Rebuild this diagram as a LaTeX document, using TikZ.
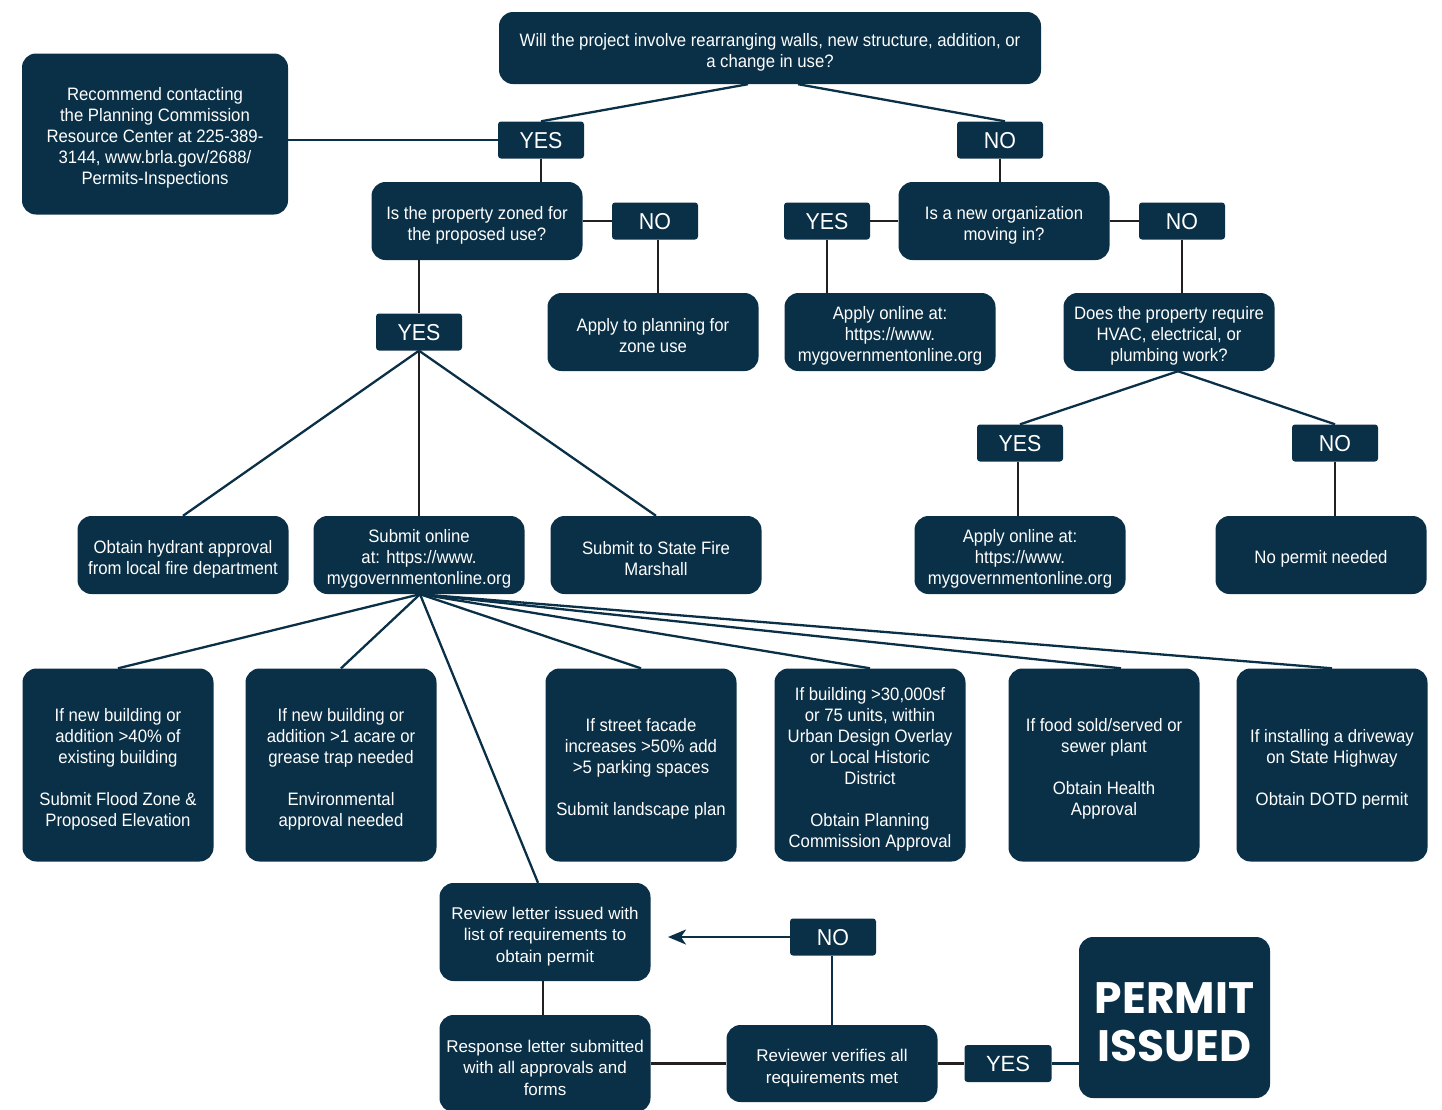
\documentclass[tikz,border=0pt]{standalone}
\usepackage{fontspec}
\setmainfont{Liberation Sans}[FakeStretch=0.93]
\newfontfamily\widefont{Liberation Sans}[FakeStretch=1.0]
\newfontfamily\permitfont{Poppins}
\usetikzlibrary{arrows.meta}
\definecolor{navy}{HTML}{0A3047}
\definecolor{stem}{HTML}{231F20}
\newcommand\tstrut{\rule{0pt}{21pt}}
\tikzset{
  box/.style={fill=navy, rounded corners=14pt, text=white, align=center, inner sep=0pt,
    font=\fontsize{18}{21}\selectfont},
  yn/.style={fill=navy, rounded corners=3pt, text=white, inner sep=0pt,
    minimum width=86pt, minimum height=37pt, text height=16.5pt, text depth=0pt,
    font=\fontsize{23}{26}\selectfont},
  nline/.style={draw=navy, line width=2.3pt},
  dline/.style={draw=stem, line width=2.3pt},
  wide/.style={font=\widefont\fontsize{17}{21.5}\selectfont},
}
\begin{document}
\begin{tikzpicture}[x=1pt,y=-1pt]
\useasboundingbox (0,0) rectangle (1442,1109);
% boxes
\node[box, minimum width=542pt, minimum height=72pt] (top) at (770,48)
  {\tstrut Will the project involve rearranging walls, new structure, addition, or\\a change in use?};
\node[box, minimum width=266pt, minimum height=161pt] (rec) at (155,134)
  {\tstrut Recommend contacting\\the Planning Commission\\Resource Center at 225-389-\\3144, www.brla.gov/2688/\\Permits-Inspections};
\node[yn] (yes1) at (541,140) {YES};
\node[yn] (no1) at (1000,140) {NO};
\node[box, minimum width=211pt, minimum height=78pt] (zoned) at (477,221)
  {\tstrut Is the property zoned for\\the proposed use?};
\node[yn] (no2) at (655,221) {NO};
\node[yn] (yes2) at (827,221) {YES};
\node[box, minimum width=211pt, minimum height=78pt] (org) at (1004,221)
  {\tstrut Is a new organization\\moving in?};
\node[yn] (no3) at (1182,221) {NO};
\node[yn] (yes3) at (419,332) {YES};
\node[box, minimum width=211pt, minimum height=78pt] (plan) at (653,332)
  {\tstrut Apply to planning for\\zone use};
\node[box, minimum width=211pt, minimum height=78pt] (app1) at (890,332)
  {\tstrut Apply online at:\\https://www.\\mygovernmentonline.org};
\node[box, minimum width=211pt, minimum height=78pt] (hvac) at (1169,332)
  {\tstrut Does the property require\\HVAC, electrical, or\\plumbing work?};
\node[yn] (yes4) at (1020,443) {YES};
\node[yn] (no4) at (1335,443) {NO};
\node[box, minimum width=211pt, minimum height=78pt] (hyd) at (183,555)
  {\tstrut Obtain hydrant approval\\from local fire department};
\node[box, minimum width=211pt, minimum height=78pt] (sub) at (419,555)
  {\tstrut Submit online\\at: https://www.\\mygovernmentonline.org};
\node[box, minimum width=211pt, minimum height=78pt] (fire) at (656,555)
  {\tstrut Submit to State Fire\\Marshall};
\node[box, minimum width=211pt, minimum height=78pt] (app2) at (1020,555)
  {\tstrut Apply online at:\\https://www.\\mygovernmentonline.org};
\node[box, minimum width=211pt, minimum height=78pt] (nop) at (1321,555)
  {\tstrut No permit needed};
% row of requirement boxes
\node[box, minimum width=191pt, minimum height=193pt] (ra) at (118,765)
  {\tstrut If new building or\\addition >40\% of\\existing building\\[21pt]Submit Flood Zone \&\\Proposed Elevation};
\node[box, minimum width=191pt, minimum height=193pt] (rb) at (341,765)
  {\tstrut If new building or\\addition >1 acare or\\grease trap needed\\[21pt]Environmental\\approval needed};
\node[box, minimum width=191pt, minimum height=193pt] (rc) at (641,765)
  {\tstrut If street facade\\increases >50\% add\\>5 parking spaces\\[21pt]Submit landscape plan};
\node[box, minimum width=191pt, minimum height=193pt] (rd) at (870,765)
  {\tstrut If building >30,000sf\\or 75 units, within\\Urban Design Overlay\\or Local Historic\\District\\[21pt]Obtain Planning\\Commission Approval};
\node[box, minimum width=191pt, minimum height=193pt] (re) at (1104,765)
  {\tstrut If food sold/served or\\sewer plant\\[21pt]Obtain Health\\Approval};
\node[box, minimum width=191pt, minimum height=193pt] (rf) at (1332,765)
  {\tstrut If installing a driveway\\on State Highway\\[21pt]Obtain DOTD permit};
% bottom
\node[box, wide, minimum width=211pt, minimum height=98pt] (rev) at (545,932)
  {\tstrut Review letter issued with\\list of requirements to\\obtain permit};
\node[yn] (no5) at (833,937) {NO};
\node[box, wide, minimum width=211pt, minimum height=97pt] (resp) at (545,1063.5)
  {\tstrut Response letter submitted\\with all approvals and\\forms};
\node[box, wide, minimum width=211pt, minimum height=77pt] (ver) at (832,1063.5)
  {\tstrut Reviewer verifies all\\requirements met};
\node[yn, minimum width=87pt, text height=16pt, font=\widefont\fontsize{22}{26}\selectfont] (yes5) at (1008,1063.5) {YES};
\node[box, minimum width=191pt, minimum height=161pt, font=\permitfont\bfseries\fontsize{44}{48}\selectfont] (perm) at (1174.5,1017.5)
  {\rule{0pt}{41pt}PERMIT\\ISSUED};
\coordinate (arrowend) at (668,937);
% connectors
\path[nline] (rec.east |- yes1.west) -- (yes1.west);
\path[nline] ([xshift=-22pt]top.south) -- (yes1.north);
\path[nline] ([xshift=28pt]top.south) -- ([xshift=5pt]no1.north);
\path[dline] (yes1.south) -- (yes1.south |- zoned.north);
\path[dline] (zoned.east) -- (no2.west);
\path[dline] ([xshift=3pt]no2.south) -- ([xshift=3pt]no2.south |- plan.north);
\path[dline] (no1.south) -- (no1.south |- org.north);
\path[dline] (yes2.east) -- (org.west);
\path[dline] (yes2.south) -- (yes2.south |- app1.north);
\path[dline] (org.east) -- (no3.west);
\path[dline] (no3.south) -- (no3.south |- hvac.north);
\path[dline] (zoned.south -| yes3.north) -- (yes3.north);
\path[nline] ([xshift=9pt]hvac.south) -- (yes4.north);
\path[nline] ([xshift=9pt]hvac.south) -- (no4.north);
\path[dline] ([xshift=-2pt]yes4.south) -- ([xshift=-2pt]yes4.south |- app2.north);
\path[dline] (no4.south) -- (no4.south |- nop.north);
\path[nline] (yes3.south) -- (hyd.north);
\path[dline] (yes3.south) -- (sub.north);
\path[nline] (yes3.south) -- (fire.north);
\foreach \t in {ra,rb,rc,rd,rf} {
  \path[nline] ([xshift=1pt]sub.south) -- (\t.north);
}
\path[nline] ([xshift=1pt]sub.south) -- ([xshift=17pt]re.north);
\path[nline] ([xshift=1pt]sub.south) -- ([xshift=-7pt]rev.north);
\path[dline] ([xshift=-2pt]rev.south) -- ([xshift=-2pt]rev.south |- resp.north);
\path[dline] (resp.east) -- (ver.west);
\path[nline] (ver.north) -- (ver.north |- no5.south);
\path[nline, -{Stealth[length=18pt,width=15pt,inset=5pt]}] (no5.west) -- (arrowend);
\path[dline] (ver.east) -- (yes5.west);
\path[nline] (yes5.east) -- (perm.west |- yes5.east);
\end{tikzpicture}
\end{document}
